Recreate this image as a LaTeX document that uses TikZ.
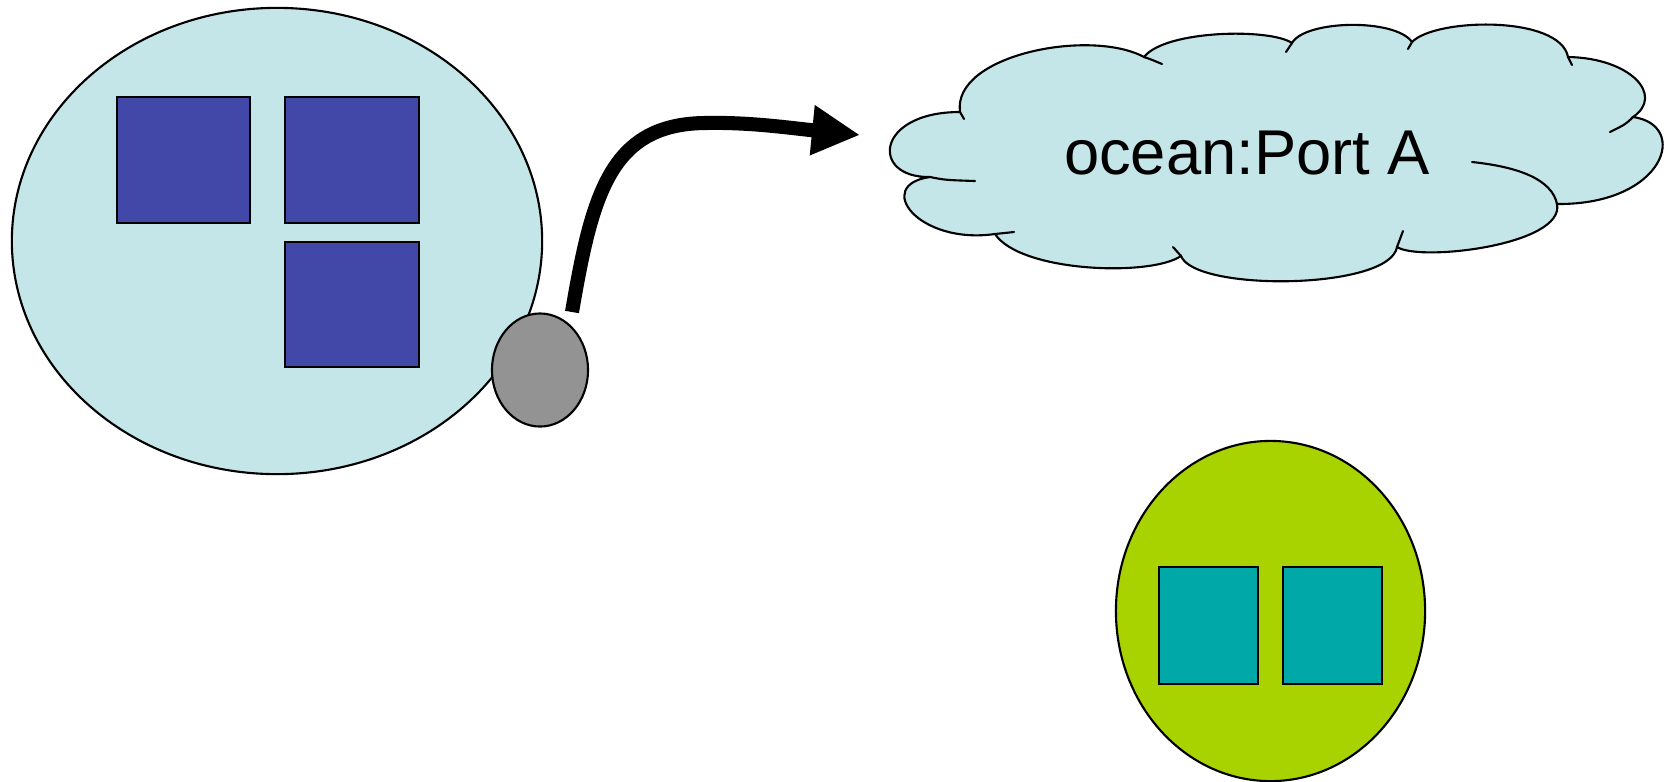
\documentclass[tikz,border=0pt]{standalone}
\usepackage{fontspec}
\setmainfont{Liberation Sans}
\usetikzlibrary{shapes.geometric}
\usetikzlibrary{arrows.meta}

\definecolor{hostfill}{RGB}{197,230,232}
\definecolor{partfill}{RGB}{65,72,168}
\definecolor{portfill}{RGB}{147,147,147}
\definecolor{limefill}{RGB}{168,211,0}
\definecolor{tealfill}{RGB}{0,168,168}

\begin{document}
\begin{tikzpicture}[
  x=0.01cm, y=-0.01cm,
  outline/.style={draw=black, line width=0.6pt},
  host/.style={outline, ellipse, inner sep=0pt},
  part/.style={outline, rectangle, inner sep=0pt},
  stub/.style={line width=0.6pt, line cap=round},
  flow/.style={line width=4pt, -{Triangle[length=0.48cm, width=0.47cm]}}
]
\useasboundingbox (0,0) rectangle (1670,781);

% Host A with its three parts
\node[host, fill=hostfill, minimum width=5.3cm, minimum height=4.66cm] (hostA) at (277,241) {};
\node[part, fill=partfill, minimum width=1.33cm, minimum height=1.26cm] (partA1) at (183.5,160) {};
\node[part, fill=partfill, minimum width=1.34cm, minimum height=1.26cm] (partA2) at (352,160) {};
\node[part, fill=partfill, minimum width=1.34cm, minimum height=1.25cm] (partA3) at (352,304.5) {};

% Port on the rim of host A
\node[host, fill=portfill, minimum width=0.96cm, minimum height=1.13cm] (port) at (540,370) {};

% Cloud: outline of puffs
\filldraw[fill=hostfill, line width=0.6pt]
  (960,112) .. controls (952,55) and (1090,28) .. (1144,57)
  .. controls (1165,30) and (1270,28) .. (1292,43)
  .. controls (1305,20) and (1395,18) .. (1412,42)
  .. controls (1435,18) and (1560,15) .. (1568,57)
  .. controls (1630,58) and (1665,95) .. (1633,117)
  .. controls (1690,125) and (1665,205) .. (1557,204)
  .. controls (1565,245) and (1420,262) .. (1397,247)
  .. controls (1390,290) and (1195,292) .. (1181,256)
  .. controls (1150,277) and (1020,272) .. (995,234)
  .. controls (918,245) and (873,185) .. (930,177)
  .. controls (870,178) and (875,112) .. (960,112) -- cycle;

% Cloud: puff ends running inside
\draw[stub] (960,112) -- (964,119);
\draw[stub] (1144,57) .. controls (1150,59) .. (1162,64);
\draw[stub] (1292,43) -- (1286,52);
\draw[stub] (1412,42) -- (1408,49);
\draw[stub] (1568,57) -- (1572,65);
\draw[stub] (1633,117) .. controls (1626,124) .. (1610,132);
\draw[stub] (1557,204) .. controls (1552,180) and (1520,167) .. (1472,162);
\draw[stub] (1397,247) -- (1403,231);
\draw[stub] (1181,256) -- (1173,247);
\draw[stub] (995,234) -- (1014,232);
\draw[stub] (930,177) .. controls (945,180) .. (975,181);

\node[anchor=base, font=\fontsize{18}{20}\selectfont] (ocean) at (1247,174) {ocean:Port A};

% Flow from the port towards the cloud
\coordinate (tail) at (572,312);
\coordinate (tip) at (860,135);
\draw[flow] (tail) .. controls (592,195) and (610,124) .. (705,123)
  .. controls (750,122) and (790,128) .. (tip);

% Host B with two parts
\node[host, fill=limefill, minimum width=3.09cm, minimum height=3.4cm] (hostB) at (1270.5,611) {};
\node[part, fill=tealfill, minimum width=0.99cm, minimum height=1.17cm] (partB1) at (1208.5,625.5) {};
\node[part, fill=tealfill, minimum width=0.99cm, minimum height=1.17cm] (partB2) at (1332.5,625.5) {};

\end{tikzpicture}
\end{document}
